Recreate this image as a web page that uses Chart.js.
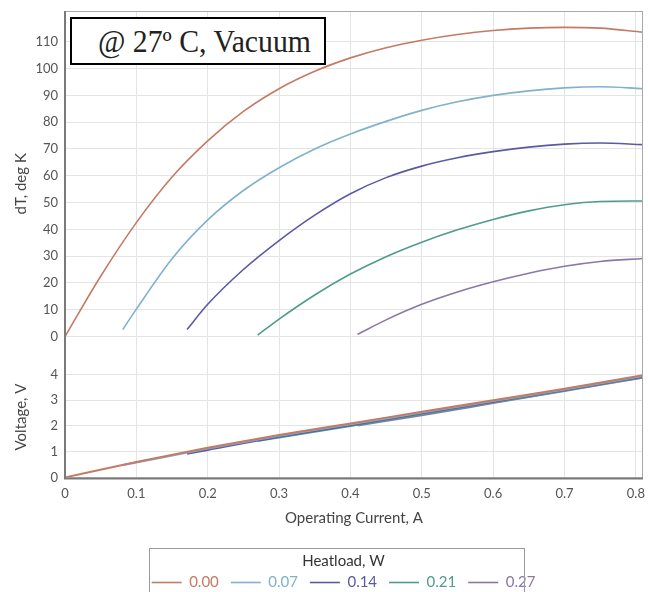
<!DOCTYPE html>
<html>
<head>
<meta charset="utf-8">
<script src="https://cdn.jsdelivr.net/npm/chart.js@4/dist/chart.umd.min.js"></script>
<style>
    html, body { margin: 0; padding: 0; background: #fff; }
    #wrap { position: relative; width: 648px; height: 592px; overflow: hidden; }
    #note {
        position: absolute; left: 70px; top: 17px; width: 226px; height: 44px;
        border: 2px solid #000; background: #fff; overflow: hidden; white-space: nowrap;
        font-family: 'Liberation Serif', 'DejaVu Serif', serif; font-size: 31px; color: #222;
        line-height: 46px; padding-left: 26px; box-sizing: content-box;
    }
    #note span { display: inline-block; transform: scaleX(0.96); transform-origin: left center; }
</style>
</head>
<body>
<div id="wrap">
    <canvas id="tecChart" width="648" height="592"></canvas>
    <div id="note"><span>@ 27º C, Vacuum</span></div>
</div>
<script>
// heat load series, legend labels and colours
const heatloads = ['0.00', '0.07', '0.14', '0.21', '0.27'];
const seriesColors = ['#c47a64', '#7fb2cc', '#5a5aa4', '#4f9c8c', '#8b78a6'];

// axis ticks
const currentTicks = [0, 0.1, 0.2, 0.3, 0.4, 0.5, 0.6, 0.7, 0.8];
const dtTicks = [0, 10, 20, 30, 40, 50, 60, 70, 80, 90, 100, 110];
const voltTicks = [0, 1, 2, 3, 4];

// dT (K) vs operating current (A)
const cur000 = [0, 0.05, 0.1, 0.15, 0.2, 0.25, 0.3, 0.35, 0.4, 0.45, 0.5, 0.55, 0.6, 0.65, 0.7, 0.75, 0.81];
const dt000 = [0, 22.5, 42.5, 59.5, 73, 84, 92.5, 99, 104, 107.8, 110.6, 112.7, 114.2, 115.1, 115.4, 115.1, 113.6];

const cur007 = [0.081, 0.1, 0.15, 0.2, 0.25, 0.3, 0.35, 0.4, 0.45, 0.5, 0.55, 0.6, 0.65, 0.7, 0.75, 0.81];
const dt007 = [2.6, 10.2, 29, 43.5, 54.5, 63, 70, 75.6, 80.3, 84.4, 87.6, 90, 91.7, 92.8, 93.2, 92.5];

const cur014 = [0.171, 0.2, 0.25, 0.3, 0.35, 0.4, 0.45, 0.5, 0.55, 0.6, 0.65, 0.7, 0.75, 0.81];
const dt014 = [2.6, 12, 25, 35.8, 45.3, 53.3, 59.3, 63.6, 66.7, 69, 70.7, 71.8, 72.2, 71.6];

const cur021 = [0.27, 0.3, 0.35, 0.4, 0.45, 0.5, 0.55, 0.6, 0.65, 0.7, 0.75, 0.81];
const dt021 = [0.5, 6.5, 15.5, 23.3, 29.8, 35.2, 39.8, 43.7, 46.9, 49.2, 50.4, 50.6];

const cur027 = [0.41, 0.45, 0.5, 0.55, 0.6, 0.65, 0.7, 0.75, 0.81];
const dt027 = [0.8, 6.2, 12, 16.6, 20.4, 23.6, 26.2, 28, 29.1];

// voltage (V) vs operating current (A)
const vCur000 = [0, 0.1, 0.2, 0.3, 0.4, 0.5, 0.6, 0.7, 0.81];
const volt000 = [0, 0.6, 1.15, 1.65, 2.1, 2.55, 3.0, 3.45, 3.97];
const vCur007 = [0.081, 0.1, 0.2, 0.3, 0.4, 0.5, 0.6, 0.7, 0.81];
const volt007 = [0.48, 0.58, 1.12, 1.62, 2.07, 2.52, 2.97, 3.42, 3.94];
const vCur014 = [0.171, 0.2, 0.3, 0.4, 0.5, 0.6, 0.7, 0.81];
const volt014 = [0.92, 1.07, 1.58, 2.03, 2.49, 2.94, 3.4, 3.92];
const vCur021 = [0.27, 0.3, 0.4, 0.5, 0.6, 0.7, 0.81];
const volt021 = [1.42, 1.55, 2.0, 2.46, 2.92, 3.38, 3.9];
const vCur027 = [0.41, 0.5, 0.6, 0.7, 0.81];
const volt027 = [2.02, 2.42, 2.89, 3.36, 3.88];

const dtCurrents = [cur000, cur007, cur014, cur021, cur027];
const dtValues = [dt000, dt007, dt014, dt021, dt027];
const vCurrents = [vCur000, vCur007, vCur014, vCur021, vCur027];
const vValues = [volt000, volt007, volt014, volt021, volt027];

function toPoints(xs, ys) {
    return xs.map((x, i) => ({ x: x, y: ys[i] }));
}

const datasets = [];
heatloads.forEach((h, i) => {
    datasets.push({
        label: h,
        data: toPoints(dtCurrents[i], dtValues[i]),
        yAxisID: 'yT',
        borderColor: seriesColors[i],
        backgroundColor: seriesColors[i],
        borderWidth: 1.6,
        pointRadius: 0,
        cubicInterpolationMode: 'monotone'
    });
});
heatloads.forEach((h, i) => {
    datasets.push({
        label: 'V ' + h,
        data: toPoints(vCurrents[i], vValues[i]),
        yAxisID: 'yV',
        borderColor: seriesColors[i],
        backgroundColor: seriesColors[i],
        borderWidth: 2,
        pointRadius: 0,
        cubicInterpolationMode: 'monotone'
    });
});

const gridColor = '#e4e4e4';
const fontFamily = 'Lato, "Noto Sans", sans-serif';
const tickFont = { family: fontFamily, size: 13 };

// y axes: fixed width, no extra room for half tick labels
function fitYAxis(scale) {
    scale.width = 65;
    scale.paddingTop = 0;
    scale.paddingBottom = 0;
}

// grey frame round the plot, darker left axis
const framePlugin = {
    id: 'frame',
    afterDatasetsDraw(chart) {
        const { ctx, chartArea: a } = chart;
        ctx.save();
        ctx.strokeStyle = '#a8a8a8';
        ctx.lineWidth = 1;
        ctx.strokeRect(a.left + 0.5, a.top + 0.5, a.right - a.left - 1, a.bottom - a.top);
        ctx.strokeStyle = '#7a7a7a';
        ctx.lineWidth = 2;
        ctx.beginPath();
        ctx.moveTo(a.left, a.top);
        ctx.lineTo(a.left, a.bottom + 1);
        ctx.lineTo(a.right, a.bottom + 1);
        ctx.stroke();
        ctx.restore();
    }
};

// legend sits a bit right of centre and has a box round it
const legendBoxPlugin = {
    id: 'legendBox',
    afterLayout(chart) {
        chart.legend.left += 22;
        chart.legend.right += 22;
    },
    afterDraw(chart) {
        const lg = chart.legend;
        if (!lg || !lg.legendHitBoxes.length) return;
        const hb = lg.legendHitBoxes;
        const left = Math.min(...hb.map(b => b.left)) - 3;
        const right = Math.max(...hb.map(b => b.left + b.width)) - 12;
        const ctx = chart.ctx;
        ctx.save();
        ctx.strokeStyle = '#9a9a9a';
        ctx.lineWidth = 1;
        ctx.strokeRect(Math.round(left) + 0.5, Math.round(lg.top) + 21.5, Math.round(right - left), 80);
        ctx.restore();
    }
};

new Chart(document.getElementById('tecChart'), {
    type: 'line',
    data: { datasets: datasets },
    options: {
        responsive: false,
        animation: false,
        layout: { padding: { top: 11, right: 5, left: 0, bottom: -8 } },
        plugins: {
            tooltip: { enabled: false },
            legend: {
                position: 'bottom',
                title: {
                    display: true,
                    text: 'Heatload, W',
                    color: '#333',
                    font: { family: fontFamily, size: 15 },
                    padding: { top: 27, bottom: -9 }
                },
                labels: {
                    usePointStyle: true,
                    pointStyle: 'line',
                    pointStyleWidth: 30,
                    boxHeight: 10,
                    padding: 12,
                    font: { family: fontFamily, size: 15 },
                    generateLabels() {
                        return heatloads.map((h, i) => ({
                            text: h,
                            fontColor: seriesColors[i],
                            strokeStyle: seriesColors[i],
                            fillStyle: seriesColors[i],
                            lineWidth: 1.6,
                            pointStyle: 'line',
                            hidden: false,
                            datasetIndex: i
                        }));
                    }
                }
            }
        },
        scales: {
            x: {
                type: 'linear',
                min: 0,
                max: 0.81,
                afterBuildTicks(scale) { scale.ticks = currentTicks.map(v => ({ value: v })); },
                afterFit(scale) { scale.paddingLeft = 0; scale.paddingRight = 0; },
                ticks: {
                    color: '#555',
                    font: tickFont,
                    padding: 9,
                    maxRotation: 0,
                    callback: v => (v === 0 ? '0' : v.toFixed(1))
                },
                grid: { color: gridColor, drawTicks: false },
                border: { display: false },
                title: {
                    display: true,
                    text: 'Operating Current, A',
                    color: '#444',
                    font: { family: fontFamily, size: 15 },
                    padding: { top: -2, bottom: 0 }
                }
            },
            yV: {
                type: 'linear',
                position: 'left',
                stack: 'panels',
                stackWeight: 1,
                min: 0,
                max: 4.7,
                afterBuildTicks(scale) { scale.ticks = voltTicks.map(v => ({ value: v })); },
                afterFit: fitYAxis,
                ticks: { color: '#555', font: tickFont, padding: 7 },
                grid: { color: gridColor, drawTicks: false },
                border: { display: false },
                title: {
                    display: true,
                    text: 'Voltage, V',
                    color: '#444',
                    font: { family: fontFamily, size: 15 },
                    padding: { top: 12, bottom: 0 }
                }
            },
            yT: {
                type: 'linear',
                position: 'left',
                stack: 'panels',
                stackWeight: 2.86,
                min: -7.5,
                max: 121.5,
                afterBuildTicks(scale) { scale.ticks = dtTicks.map(v => ({ value: v })); },
                afterFit: fitYAxis,
                ticks: { color: '#555', font: tickFont, padding: 7 },
                grid: { color: gridColor, drawTicks: false },
                border: { display: false },
                title: {
                    display: true,
                    text: 'dT, deg K',
                    color: '#444',
                    font: { family: fontFamily, size: 15 },
                    padding: { top: 12, bottom: 0 }
                }
            }
        }
    },
    plugins: [framePlugin, legendBoxPlugin]
});
</script>
</body>
</html>
